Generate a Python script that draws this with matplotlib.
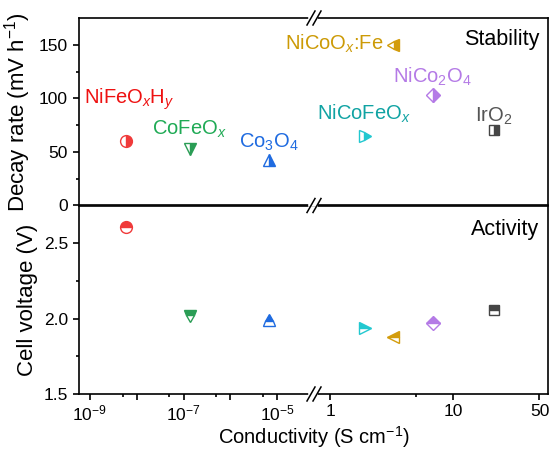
import numpy as np
import matplotlib
matplotlib.use('Agg')
import matplotlib.pyplot as plt
from matplotlib.lines import Line2D

plt.rcParams['font.family'] = ['Liberation Sans', 'DejaVu Sans']
plt.rcParams['mathtext.fontset'] = 'custom'
plt.rcParams['mathtext.rm'] = 'Liberation Sans'
plt.rcParams['mathtext.it'] = 'Liberation Sans:italic'
plt.rcParams['mathtext.bf'] = 'Liberation Sans:bold'

# ── data ──────────────────────────────────────────────────────────────────────
names = [r'NiFeO$_\mathit{x}$H$_\mathit{y}$', r'CoFeO$_\mathit{x}$', r'Co$_3$O$_4$',
         r'NiCoFeO$_\mathit{x}$', r'NiCoO$_\mathit{x}$:Fe', r'NiCo$_2$O$_4$', r'IrO$_2$']
conductivity = [6.0e-9, 1.35e-7, 6.6e-6, 1.92, 3.26, 6.8, 21.4]
decay_rate = [60, 53, 42, 65, 150, 103, 70]
cell_voltage = [2.61, 2.02, 1.99, 1.94, 1.88, 1.97, 2.06]

markers = ['o', 'v', '^', '>', '<', 'D', 's']
msizes = [8.5, 9, 9, 9, 9, 7, 7]
mcolors = ['#f03a3a', '#2a9d55', '#1f6be0', '#22c8d0', '#d39c0c', '#b47ae6', '#454545']
tcolors = ['#ee1111', '#1faa55', '#1f6be0', '#10a3a3', '#cc9a06', '#b47ae6', '#555555']
# label offsets from marker in px (dx, dy to baseline), ha
lab_off = [(3, 38, 'center'), (0, 14, 'center'), (0, 13, 'center'), (-1, 16, 'center'),
           (-10, -5, 'right'), (0, 12, 'center'), (0, 9, 'center')]

# ── broken log axis as a function scale ───────────────────────────────────────
LB, LR, K, EPS = -4.2, -0.122, 123.3 / 46.9, 1e-3

def fwd(x):
    x = np.asarray(x, dtype=float)
    with np.errstate(divide='ignore', invalid='ignore'):
        L = np.log10(np.clip(x, 1e-300, None))
    mid = LB + (L - LB) * EPS
    right = LB + (LR - LB) * EPS + (L - LR) * K
    return np.where(L <= LB, L, np.where(L >= LR, right, mid))

def inv(u):
    u = np.asarray(u, dtype=float)
    u0 = LB + (LR - LB) * EPS
    L = np.where(u <= LB, u, np.where(u >= u0, LR + (u - u0) / K, LB + (u - LB) / EPS))
    return 10.0 ** L

# ── canvas ────────────────────────────────────────────────────────────────────
fig = plt.figure(figsize=(5.5, 4.51), dpi=100)
W, H = 550.0, 451.0
ax1 = fig.add_axes([79 / W, 1 - 205.5 / H, 469 / W, 187.5 / H])
ax2 = fig.add_axes([79 / W, 1 - 394 / H, 469 / W, 188.5 / H])

for ax in (ax1, ax2):
    ax.set_xscale('function', functions=(fwd, inv))
    ax.set_xlim(10 ** -9.23, 10 ** 1.768)
    for s in ax.spines.values():
        s.set_linewidth(1.2)
    ax.tick_params(which='both', direction='out', width=1.2, labelsize=12.5,
                   top=False, right=False)
    ax.tick_params(which='major', length=4.5)
    ax.tick_params(which='minor', length=2.5)
ax2.tick_params(axis='x', pad=2.5)

major = [1e-9, 1e-8, 1e-7, 1e-6, 1e-5, 1, 10, 50]
major_lbl = [r'$10^{-9}$', '', r'$10^{-7}$', '', r'$10^{-5}$', '1', '10', '50']
minor = [5e-9, 5e-8, 5e-7, 5e-6, 5]
for ax in (ax1, ax2):
    ax.set_xticks(major, major_lbl)
    ax.set_xticks(minor, [''] * len(minor), minor=True)
ax1.tick_params(axis='x', which='both', bottom=False, labelbottom=False)

ax1.set_ylim(0, 175)
ax1.set_yticks([0, 50, 100, 150])
ax1.set_yticks([25, 75, 125], minor=True)
ax2.set_ylim(1.5, 2.75)
ax2.set_yticks([1.5, 2.0, 2.5], ['1.5', '2.0', '2.5'])
ax2.set_yticks([1.75, 2.25], minor=True)

ax1.set_ylabel(r'Decay rate (mV h$^{-1}$)', fontsize=16, labelpad=4)
ax2.set_ylabel('Cell voltage (V)', fontsize=16, labelpad=4)
ax2.set_xlabel(r'Conductivity (S cm$^{-1}$)', fontsize=14.5, labelpad=0)

# ── points ────────────────────────────────────────────────────────────────────
for i in range(len(names)):
    kw = dict(marker=markers[i], ms=msizes[i], color=mcolors[i], mec=mcolors[i],
              mew=1.0, markerfacecoloralt='white', ls='none', zorder=5)
    ax1.plot([conductivity[i]], [decay_rate[i]], fillstyle='right', **kw)
    ax2.plot([conductivity[i]], [cell_voltage[i]], fillstyle='top', **kw)
    dx, dy, ha = lab_off[i]
    ax1.annotate(names[i], (conductivity[i], decay_rate[i]),
                 xytext=(dx * 0.72, dy * 0.72), textcoords='offset points',
                 ha=ha, va='baseline', fontsize=14.5, color=tcolors[i])

ax1.text(0.981, 0.856, 'Stability', transform=ax1.transAxes, ha='right',
         va='baseline', fontsize=15.5)
ax2.text(0.981, 0.843, 'Activity', transform=ax2.transAxes, ha='right',
         va='baseline', fontsize=15.5)

fig.align_ylabels([ax1, ax2])

# ── break marks ───────────────────────────────────────────────────────────────
def px(x, y):
    return x / W, 1 - y / H

for yb in (18, 205.5, 394):
    xs, ys = zip(px(310, yb), px(316, yb))
    fig.add_artist(Line2D(xs, ys, color='white', lw=2.6, transform=fig.transFigure))
    for x0 in (307, 313):
        xs, ys = zip(px(x0, yb + 7), px(x0 + 8, yb - 7))
        fig.add_artist(Line2D(xs, ys, color='black', lw=1.1, transform=fig.transFigure))

fig.savefig('out.png', dpi=100, facecolor='white')
